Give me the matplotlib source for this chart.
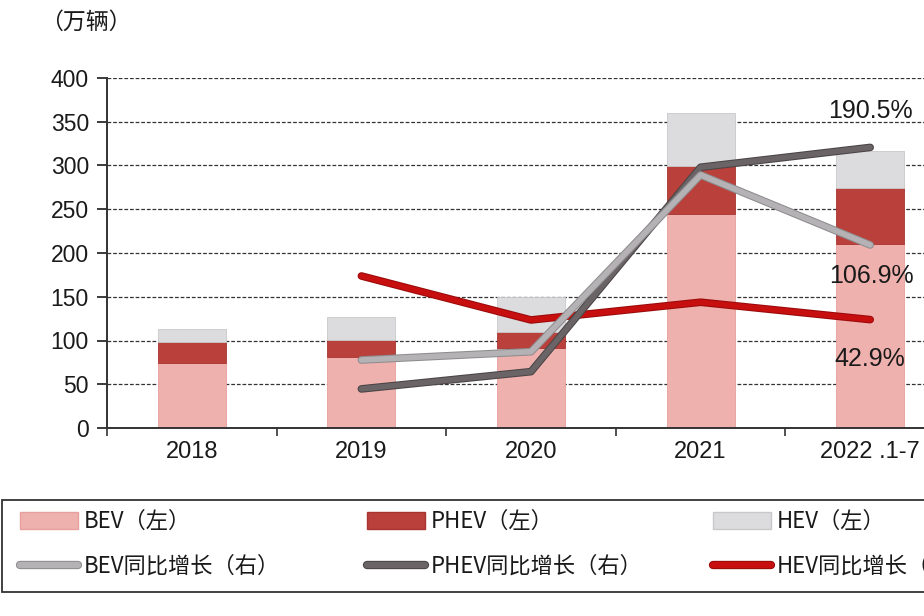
import matplotlib
matplotlib.use("Agg")
import matplotlib.pyplot as plt
import matplotlib.patheffects as pe
from matplotlib.patches import Patch, Rectangle
from matplotlib.lines import Line2D
import numpy as np

plt.rcParams["font.family"] = ["Liberation Sans", "Noto Sans CJK SC", "DejaVu Sans"]

# 数据（万辆 / %）
years = ["2018", "2019", "2020", "2021", "2022 .1-7"]
bev = [74, 81, 91, 245, 210]
phev = [24, 20, 19, 54, 64]
hev = [15, 26, 40, 61, 43]

growth_years = ["2019", "2020", "2021", "2022 .1-7"]
bev_growth = [8.3, 15.4, 166.9, 106.9]
phev_growth = [-16.5, -1.7, 173.5, 190.5]
hev_growth = [80.3, 42.6, 57.8, 42.9]

c_bev = "#efb1ae"
c_phev = "#b9403b"
c_hev = "#dcdcde"
c_bev_line = "#b4b2b4"
c_phev_line = "#6b6466"
c_hev_line = "#c80f0f"

fig = plt.figure(figsize=(9.24, 6.16), dpi=100)
ax = fig.add_axes([107 / 924, 1 - 428 / 616, 848 / 924, 350 / 616])

x = np.arange(len(years))
w = 0.4
bev_arr = np.array(bev)
phev_arr = np.array(phev)
ax.bar(x, bev, w, color=c_bev, edgecolor="#e8a09c", linewidth=0.6, zorder=2)
ax.bar(x, phev, w, bottom=bev_arr, color=c_phev, edgecolor="#a83530", linewidth=0.6, zorder=2)
ax.bar(x, hev, w, bottom=bev_arr + phev_arr, color=c_hev, edgecolor="#c8c8ca", linewidth=0.6, zorder=2)

ax.set_xlim(-0.5, len(years) - 0.5)
ax.set_ylim(0, 400)
ax.set_yticks(range(0, 401, 50))
ax.yaxis.grid(True, linestyle=(0, (3, 1.5)), color="#333333", linewidth=0.9, zorder=0)
ax.set_axisbelow(True)
ax.set_xticks(x)
ax.set_xticklabels(years)
ax.set_xticks(np.arange(-0.5, len(years), 1), minor=True)
ax.tick_params(axis="x", which="major", length=0, labelsize=17, pad=9, colors="#1a1a1a")
ax.tick_params(axis="x", which="minor", length=6, width=1.2, direction="out", color="#333333")
ax.tick_params(axis="y", length=7, width=1.2, labelsize=16.5, pad=6, colors="#1a1a1a")
for s in ["top", "right"]:
    ax.spines[s].set_visible(False)
ax.spines["left"].set_color("#333333")
ax.spines["left"].set_linewidth(1.4)
ax.spines["bottom"].set_color("#333333")
ax.spines["bottom"].set_linewidth(1.4)

ax2 = ax.twinx()
ax2.set_ylim(-50, 250)
ax2.axis("off")
gx = [years.index(g) for g in growth_years]


def draw_line(vals, color, edge):
    ax2.plot(gx, vals, color=color, linewidth=4.0, solid_capstyle="round",
             solid_joinstyle="round", zorder=3,
             path_effects=[pe.Stroke(linewidth=5.5, foreground=edge), pe.Normal()])


draw_line(hev_growth, c_hev_line, "#9a0a0a")
draw_line(phev_growth, c_phev_line, "#4a4446")
draw_line(bev_growth, c_bev_line, "#8e8c8e")

ax2.annotate(f"{phev_growth[-1]}%", (gx[-1], phev_growth[-1]), xytext=(0, 26),
             textcoords="offset points", ha="center", va="center", fontsize=18, color="#1a1a1a")
ax2.annotate(f"{bev_growth[-1]}%", (gx[-1], bev_growth[-1]), xytext=(1, -22),
             textcoords="offset points", ha="center", va="center", fontsize=18, color="#1a1a1a")
ax2.annotate(f"{hev_growth[-1]}%", (gx[-1], hev_growth[-1]), xytext=(0, -28),
             textcoords="offset points", ha="center", va="center", fontsize=18, color="#1a1a1a")

fig.text(40 / 924, 1 - 22 / 616, "（万辆）", fontsize=16.5, va="center", ha="left",
         family=["Noto Sans CJK SC"], color="#1a1a1a")


def line_handle(color, edge):
    return Line2D([], [], color=color, linewidth=4.5, solid_capstyle="round",
                  path_effects=[pe.Stroke(linewidth=6, foreground=edge), pe.Normal()])


# legend frame, running off the right edge like the reference
fig.patches.append(Rectangle((2 / 924, 1 - 592 / 616), 1.2, 92 / 616,
                             transform=fig.transFigure, facecolor="white",
                             edgecolor="#333333", linewidth=1.3, zorder=0))

columns = [
    (20, [Patch(facecolor=c_bev, edgecolor="#e8a09c"), line_handle(c_bev_line, "#8e8c8e")],
     ["BEV（左）", "BEV同比增长（右）"]),
    (367, [Patch(facecolor=c_phev, edgecolor="#a83530"), line_handle(c_phev_line, "#4a4446")],
     ["PHEV（左）", "PHEV同比增长（右）"]),
    (713, [Patch(facecolor=c_hev, edgecolor="#c8c8ca"), line_handle(c_hev_line, "#9a0a0a")],
     ["HEV（左）", "HEV同比增长（右）"]),
]
for px, hs, ls in columns:
    leg = fig.legend(hs, ls, loc="upper left", bbox_to_anchor=(px / 924, 1 - 510 / 616),
                     prop={"family": ["Noto Sans CJK SC"], "size": 16},
                     handlelength=2.6, handleheight=0.8, handletextpad=0.25,
                     labelspacing=0.98, borderpad=0, borderaxespad=0, frameon=False)
    for t in leg.get_texts():
        t.set_color("#1a1a1a")

fig.savefig("out.png", dpi=100)
